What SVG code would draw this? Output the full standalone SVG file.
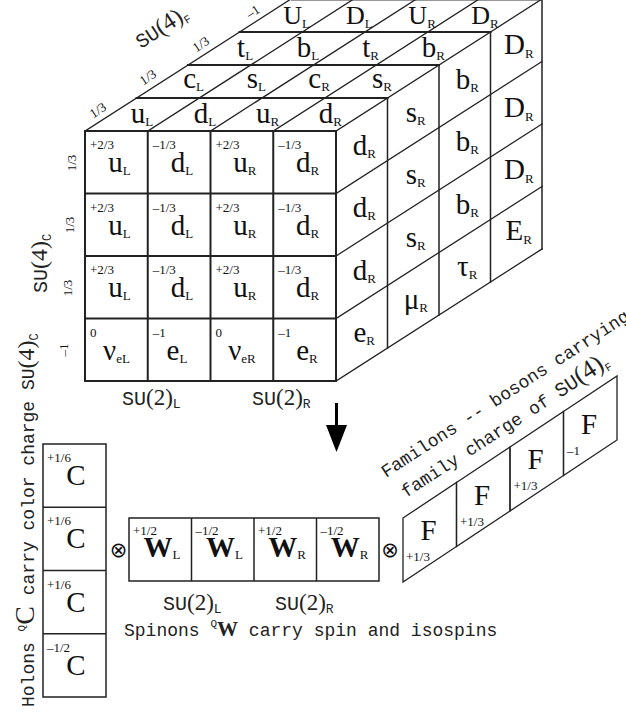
<svg xmlns="http://www.w3.org/2000/svg" width="626" height="713" viewBox="0 0 626 713">
<style>
.ln{stroke:#222;fill:none;stroke-linecap:square}
.f{stroke-width:2}
.h{stroke-width:1.9}
.d{stroke-width:1.3}
.v{stroke-width:1.5}
.big{font-family:"Liberation Serif",serif;font-size:29px;fill:#111}
.sub{font-size:13px}
.chg{font-family:"Liberation Serif",serif;font-size:13px;fill:#111}
.mono{font-family:"Liberation Mono",monospace;font-size:18px;fill:#222}
.ser{font-family:"Liberation Serif",serif}
.op{font-family:"DejaVu Sans",sans-serif;font-size:21px;fill:#111}
</style>
<rect width="626" height="713" fill="#fff"/>

<g id="cube">
  <g id="front-face">
    <rect class="ln f" x="85" y="131" width="251" height="250"/>
    <path class="ln f" d="M147.75 131V381M210.5 131V381M273.25 131V381M85 193.5H336M85 256H336M85 318.5H336"/>
  </g>
  <g id="top-face">
    <path class="ln h" d="M136.5 98H387.5M188 65H439M239.5 32H490.5"/>
    <path stroke="#999" stroke-width="1" d="M291 0.5H542"/>
    <path class="ln d" d="M85 131L291 -1M147.75 131L353.75 -1M210.5 131L416.5 -1M273.25 131L479.25 -1M336 131L542 -1"/>
  </g>
  <g id="right-face">
    <path class="ln v" d="M387.5 98V348M439 65V315M490.5 32V282M542 -1V249"/>
    <path class="ln d" d="M336 193.5L542 61.5M336 256L542 124M336 318.5L542 186.5M336 381L542 249"/>
  </g>

  <g id="top-labels" class="big" text-anchor="middle">
    <text x="142.1" y="122.5">u<tspan class="sub" dy="3">L</tspan></text>
    <text x="204.9" y="122.5">d<tspan class="sub" dy="3">L</tspan></text>
    <text x="267.6" y="122.5">u<tspan class="sub" dy="3">R</tspan></text>
    <text x="330.4" y="122.5">d<tspan class="sub" dy="3">R</tspan></text>
    <text x="193.6" y="88">c<tspan class="sub" dy="3">L</tspan></text>
    <text x="256.4" y="88">s<tspan class="sub" dy="3">L</tspan></text>
    <text x="319.1" y="88">c<tspan class="sub" dy="3">R</tspan></text>
    <text x="381.9" y="88">s<tspan class="sub" dy="3">R</tspan></text>
    <text x="245.1" y="56.5">t<tspan class="sub" dy="3">L</tspan></text>
    <text x="307.9" y="56.5">b<tspan class="sub" dy="3">L</tspan></text>
    <text x="370.6" y="56.5">t<tspan class="sub" dy="3">R</tspan></text>
    <text x="433.4" y="56.5">b<tspan class="sub" dy="3">R</tspan></text>
    <g font-size="26">
      <text x="296.6" y="23.5">U<tspan class="sub" dy="4">L</tspan></text>
      <text x="359.4" y="23.5">D<tspan class="sub" dy="4">L</tspan></text>
      <text x="422.1" y="23.5">U<tspan class="sub" dy="4">R</tspan></text>
      <text x="484.9" y="23.5">D<tspan class="sub" dy="4">R</tspan></text>
    </g>
  </g>

  <g id="front-labels">
    <g class="chg">
      <text x="90" y="149">+2/3</text><text x="152.75" y="149">–1/3</text><text x="215.5" y="149">+2/3</text><text x="278.25" y="149">–1/3</text>
      <text x="90" y="211.5">+2/3</text><text x="152.75" y="211.5">–1/3</text><text x="215.5" y="211.5">+2/3</text><text x="278.25" y="211.5">–1/3</text>
      <text x="90" y="274">+2/3</text><text x="152.75" y="274">–1/3</text><text x="215.5" y="274">+2/3</text><text x="278.25" y="274">–1/3</text>
      <text x="90" y="336.5">0</text><text x="152.75" y="336.5">–1</text><text x="215.5" y="336.5">0</text><text x="278.25" y="336.5">–1</text>
    </g>
    <g class="big" text-anchor="middle">
      <text x="119.4" y="172">u<tspan class="sub" dy="3">L</tspan></text>
      <text x="182.1" y="172">d<tspan class="sub" dy="3">L</tspan></text>
      <text x="244.9" y="172">u<tspan class="sub" dy="3">R</tspan></text>
      <text x="307.6" y="172">d<tspan class="sub" dy="3">R</tspan></text>
      <text x="119.4" y="234.5">u<tspan class="sub" dy="3">L</tspan></text>
      <text x="182.1" y="234.5">d<tspan class="sub" dy="3">L</tspan></text>
      <text x="244.9" y="234.5">u<tspan class="sub" dy="3">R</tspan></text>
      <text x="307.6" y="234.5">d<tspan class="sub" dy="3">R</tspan></text>
      <text x="119.4" y="297">u<tspan class="sub" dy="3">L</tspan></text>
      <text x="182.1" y="297">d<tspan class="sub" dy="3">L</tspan></text>
      <text x="244.9" y="297">u<tspan class="sub" dy="3">R</tspan></text>
      <text x="307.6" y="297">d<tspan class="sub" dy="3">R</tspan></text>
      <text x="116.5" y="359.5">ν<tspan class="sub" dy="3">eL</tspan></text>
      <text x="177" y="359.5">e<tspan class="sub" dy="3">L</tspan></text>
      <text x="242" y="359.5">ν<tspan class="sub" dy="3">eR</tspan></text>
      <text x="307" y="359.5">e<tspan class="sub" dy="3">R</tspan></text>
    </g>
  </g>

  <g id="right-labels" class="big" text-anchor="middle">
    <text x="364.25" y="154.75">d<tspan class="sub" dy="3">R</tspan></text>
    <text x="364.25" y="217.25">d<tspan class="sub" dy="3">R</tspan></text>
    <text x="364.25" y="279.75">d<tspan class="sub" dy="3">R</tspan></text>
    <text x="364.25" y="342.25">e<tspan class="sub" dy="3">R</tspan></text>
    <text x="415.75" y="121.75">s<tspan class="sub" dy="3">R</tspan></text>
    <text x="415.75" y="184.25">s<tspan class="sub" dy="3">R</tspan></text>
    <text x="415.75" y="246.75">s<tspan class="sub" dy="3">R</tspan></text>
    <text x="415.75" y="309.25">μ<tspan class="sub" dy="3">R</tspan></text>
    <text x="467.25" y="88.75">b<tspan class="sub" dy="3">R</tspan></text>
    <text x="467.25" y="151.25">b<tspan class="sub" dy="3">R</tspan></text>
    <text x="467.25" y="213.75">b<tspan class="sub" dy="3">R</tspan></text>
    <text x="467.25" y="276.25">τ<tspan class="sub" dy="3">R</tspan></text>
    <text x="518.75" y="54">D<tspan class="sub" dy="4">R</tspan></text>
    <text x="518.75" y="116.5">D<tspan class="sub" dy="4">R</tspan></text>
    <text x="518.75" y="179">D<tspan class="sub" dy="4">R</tspan></text>
    <text x="518.75" y="240">E<tspan class="sub" dy="4">R</tspan></text>
  </g>

  <g id="cube-axes">
    <g class="chg" text-anchor="middle">
      <text transform="translate(98,110.5) rotate(-33)" y="4">1/3</text>
      <text transform="translate(148,77.5) rotate(-33)" y="4">1/3</text>
      <text transform="translate(201,44.5) rotate(-33)" y="4">1/3</text>
      <text transform="translate(253,12) rotate(-33)" y="4">–1</text>
      <text transform="translate(72,163) rotate(-90)" y="4">1/3</text>
      <text transform="translate(70,225) rotate(-90)" y="4">1/3</text>
      <text transform="translate(68,288) rotate(-90)" y="4">1/3</text>
      <text transform="translate(64,350) rotate(-90)" y="4">–1</text>
    </g>
    <text class="mono" transform="translate(141,49) rotate(-33)"><tspan font-size="20">SU</tspan><tspan class="ser" font-size="24">(4)</tspan><tspan font-size="11" dy="4">F</tspan></text>
    <text class="mono" transform="translate(47,293) rotate(-90)"><tspan font-size="20">SU</tspan><tspan class="ser" font-size="24">(4)</tspan><tspan font-size="12" dy="4">C</tspan></text>
    <text class="mono" x="122" y="405"><tspan font-size="20">SU</tspan><tspan class="ser" font-size="23">(2)</tspan><tspan font-size="13" dy="3">L</tspan></text>
    <text class="mono" x="252" y="405"><tspan font-size="20">SU</tspan><tspan class="ser" font-size="23">(2)</tspan><tspan font-size="13" dy="3">R</tspan></text>
  </g>
</g>

<g id="connectors">
  <path d="M336.5 403V428" stroke="#000" stroke-width="3"/>
  <polygon points="326,425 347,425 336.5,452" fill="#000"/>
</g>

<g id="holons">
  <path class="ln v" d="M43 444H106V697H43ZM43 507.25H106M43 570.5H106M43 633.75H106"/>
  <g class="chg">
    <text x="47" y="462">+1/6</text>
    <text x="47" y="525.25">+1/6</text>
    <text x="47" y="588.5">+1/6</text>
    <text x="47" y="651.75">–1/2</text>
  </g>
  <g class="big" font-size="31" text-anchor="middle">
    <text x="76" y="485">C</text>
    <text x="76" y="548.25">C</text>
    <text x="76" y="611.5">C</text>
    <text x="76" y="674.75">C</text>
  </g>
  <text class="mono" transform="translate(34,707) rotate(-90)">Holons <tspan font-size="11" dy="-9">Q</tspan><tspan class="ser" font-size="28" dy="9">C</tspan> carry color charge SU<tspan class="ser" font-size="24">(4)</tspan><tspan font-size="12" dy="4">C</tspan></text>
</g>

<g id="operators" class="op" text-anchor="middle">
  <text x="118.5" y="556.5">⊗</text>
  <text x="390" y="556.5">⊗</text>
</g>

<g id="spinons">
  <path class="ln v" d="M129 518H379V581H129ZM191.5 518V581M254 518V581M316.5 518V581"/>
  <g class="chg">
    <text x="133" y="535">+1/2</text>
    <text x="195.5" y="535">–1/2</text>
    <text x="258" y="535">+1/2</text>
    <text x="320.5" y="535">–1/2</text>
  </g>
  <g class="big" font-size="19" text-anchor="middle">
    <text x="162" y="557"><tspan font-weight="bold">W</tspan><tspan class="sub" dy="2">L</tspan></text>
    <text x="224.5" y="557"><tspan font-weight="bold">W</tspan><tspan class="sub" dy="2">L</tspan></text>
    <text x="287" y="557"><tspan font-weight="bold">W</tspan><tspan class="sub" dy="2">R</tspan></text>
    <text x="349.5" y="557"><tspan font-weight="bold">W</tspan><tspan class="sub" dy="2">R</tspan></text>
  </g>
  <text class="mono" x="163" y="610"><tspan font-size="20">SU</tspan><tspan class="ser" font-size="23">(2)</tspan><tspan font-size="13" dy="3">L</tspan></text>
  <text class="mono" x="275" y="610"><tspan font-size="20">SU</tspan><tspan class="ser" font-size="23">(2)</tspan><tspan font-size="13" dy="3">R</tspan></text>
  <text class="mono" x="124" y="636">Spinons <tspan font-size="11" dy="-9">Q</tspan><tspan class="ser" font-weight="bold" font-size="21" dy="9">W</tspan> carry spin and isospins</text>
</g>

<g id="familons">
  <g class="ln d">
    <polygon points="403,518 456.5,482.5 456.5,546.5 403,582"/>
    <polygon points="456.5,482.5 510,447 510,511 456.5,546.5"/>
    <polygon points="510,447 563.5,411.5 563.5,475.5 510,511"/>
    <polygon points="563.5,411.5 617,376 617,440 563.5,475.5"/>
  </g>
  <g class="big" font-size="30" text-anchor="middle">
    <text x="428.5" y="540">F</text>
    <text x="482" y="504.5">F</text>
    <text x="535.5" y="469">F</text>
    <text x="589" y="433.5">F</text>
  </g>
  <g class="chg">
    <text x="406" y="561">+1/3</text>
    <text x="460" y="525.5">+1/3</text>
    <text x="513.5" y="490">+1/3</text>
    <text x="567" y="454.5">–1</text>
  </g>
  <text class="mono" transform="translate(386,478) rotate(-33)">Familons -- bosons carrying</text>
  <text class="mono" transform="translate(406,498) rotate(-33)">family charge of <tspan font-size="20">SU</tspan><tspan class="ser" font-size="26">(4)</tspan><tspan font-size="11" dy="4">F</tspan></text>
</g>
</svg>
